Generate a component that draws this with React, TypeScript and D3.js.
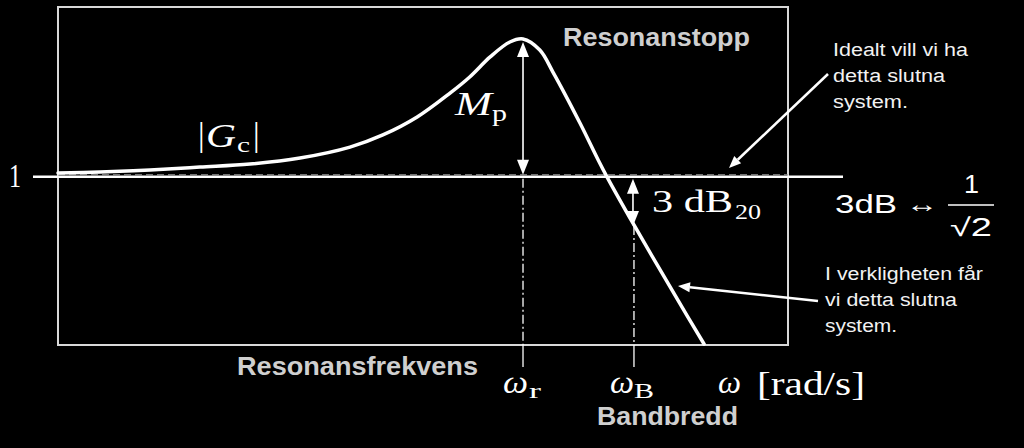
import React, { useEffect, useRef } from 'react';
import * as d3 from 'd3';

// frequency axis in log-units (0..10 across the box), closed-loop gain |Gc|
const freq = [0, 0.575, 1.26, 1.945, 2.63, 3.315, 4.0, 4.45, 4.92, 5.37, 5.64, 5.92, 6.19, 6.37, 6.6, 6.78, 7.15, 7.4, 7.52, 7.89, 8.49, 8.85];
const gain = [1.023, 1.029, 1.041, 1.058, 1.076, 1.112, 1.177, 1.249, 1.356, 1.498, 1.594, 1.713, 1.802, 1.82, 1.754, 1.623, 1.32, 1.1, 1.0, 0.714, 0.268, 0.006];

const omegaR = 6.37;   // resonance frequency
const omegaB = 7.89;   // bandwidth
const peakGain = 1.82; // Mp
const unitGain = 1;
const bandGain = 0.707; // 1/sqrt(2)

const W = 1024, H = 448;
const serif = "'Liberation Serif', 'Times New Roman', serif";
const sans = "'Liberation Sans', Arial, sans-serif";

const App: React.FC = () => {
  const ref = useRef<SVGSVGElement>(null);

  useEffect(() => {
    document.body.style.margin = '0';
    document.body.style.background = '#000';
    const svg = d3.select(ref.current);
    svg.selectAll('*').remove();

    const x = d3.scaleLinear().domain([0, 10]).range([58, 788]);
    const y = d3.scaleLinear().domain([0, 2.01]).range([345, 7]);

    svg.append('rect').attr('width', W).attr('height', H).attr('fill', '#000');

    // frame
    svg.append('rect')
      .attr('x', x(0)).attr('y', y(2.01))
      .attr('width', x(10) - x(0)).attr('height', y(0) - y(2.01))
      .attr('fill', 'none').attr('stroke', '#d8d8d8').attr('stroke-width', 2);

    // unit level line (ideal system) + tick
    svg.append('line')
      .attr('x1', 33).attr('x2', 843).attr('y1', y(unitGain)).attr('y2', y(unitGain))
      .attr('stroke', '#fff').attr('stroke-width', 2.5);
    svg.append('line')
      .attr('x1', x(0)).attr('x2', x(10)).attr('y1', y(unitGain) - 2).attr('y2', y(unitGain) - 2)
      .attr('stroke', '#999').attr('stroke-width', 1.2).attr('stroke-dasharray', '7,4');

    // dash-dot guide lines
    const guide = (xv: number, top: number) => {
      svg.append('line')
        .attr('x1', x(xv)).attr('x2', x(xv)).attr('y1', top).attr('y2', y(0))
        .attr('stroke', '#fff').attr('stroke-width', 1.3).attr('stroke-dasharray', '9,3,2,3');
      svg.append('line')
        .attr('x1', x(xv)).attr('x2', x(xv)).attr('y1', y(0)).attr('y2', 367)
        .attr('stroke', '#fff').attr('stroke-width', 1.3);
    };
    guide(omegaR, y(unitGain) + 2);
    guide(omegaB, y(bandGain));

    // curve
    const line = d3.line<number>()
      .x((_, i) => x(freq[i]))
      .y(d => y(d))
      .curve(d3.curveCatmullRom.alpha(0.5));
    svg.append('path')
      .attr('d', line(gain) || '')
      .attr('fill', 'none').attr('stroke', '#fff').attr('stroke-width', 3.5)
      .attr('stroke-linecap', 'round');

    // vertical double arrows
    const head = (cx: number, tip: number, dir: number, w = 12, l = 15) => {
      svg.append('path')
        .attr('d', `M${cx},${tip}L${cx - w / 2},${tip - dir * l}L${cx + w / 2},${tip - dir * l}Z`)
        .attr('fill', '#fff');
    };
    const dbl = (cx: number, top: number, bottom: number) => {
      svg.append('line').attr('x1', cx).attr('x2', cx).attr('y1', top + 5).attr('y2', bottom - 5)
        .attr('stroke', '#fff').attr('stroke-width', 1.6);
      head(cx, top, -1);
      head(cx, bottom, 1);
    };
    dbl(x(omegaR), y(peakGain) + 3, y(unitGain) - 2);
    dbl(x(omegaB) - 1, y(unitGain) + 2, y(bandGain));

    // callout arrows
    const callout = (x1: number, y1: number, x2: number, y2: number) => {
      const a = Math.atan2(y2 - y1, x2 - x1);
      const l = 12, w = 5;
      const bx = x2 - l * Math.cos(a), by = y2 - l * Math.sin(a);
      svg.append('line').attr('x1', x1).attr('y1', y1).attr('x2', bx).attr('y2', by)
        .attr('stroke', '#fff').attr('stroke-width', 2.5);
      svg.append('path')
        .attr('d', `M${x2},${y2}L${bx + w * Math.sin(a)},${by - w * Math.cos(a)}L${bx - w * Math.sin(a)},${by + w * Math.cos(a)}Z`)
        .attr('fill', '#fff');
    };
    callout(828, 74, 729, 168);
    callout(818, 301, 678, 286);

    // text helper
    const txt = (s: string, tx: number, ty: number, size: number, family: string,
      opts: { weight?: string; style?: string; fill?: string; len?: number } = {}) => {
      const t = svg.append('text')
        .attr('x', tx).attr('y', ty)
        .style('font-family', family).style('font-size', size + 'px')
        .style('font-weight', opts.weight || 'normal')
        .style('font-style', opts.style || 'normal')
        .attr('fill', opts.fill || '#fff')
        .text(s);
      if (opts.len) t.attr('textLength', opts.len).attr('lengthAdjust', 'spacingAndGlyphs');
      return t;
    };

    txt('1', 9, 187, 33, serif, { len: 12 });

    // |Gc|
    txt('|', 198, 146, 33, serif);
    txt('G', 206, 147, 33, serif, { style: 'italic', len: 30 });
    txt('c', 237, 152, 22, serif, { len: 13 });
    txt('|', 253, 146, 33, serif);

    // Mp
    txt('M', 455, 115, 33, serif, { style: 'italic', len: 37 });
    txt('p', 492, 121, 23, serif, { len: 15 });

    // 3 dB20
    txt('3 dB', 652, 212, 32, serif, { len: 81 });
    txt('20', 735, 219, 22, serif, { len: 26 });

    // omega labels
    txt('ω', 503, 393, 31, serif, { style: 'italic', len: 25 });
    txt('r', 529, 398, 21, serif, { len: 12 });
    txt('ω', 610, 393, 31, serif, { style: 'italic', len: 24 });
    txt('B', 634, 398, 21, serif, { len: 20 });
    txt('ω', 718, 393, 31, serif, { style: 'italic', len: 23 });
    txt('[rad/s]', 757, 395, 33, serif, { len: 108 });

    // bold gray labels
    const gray = '#cfcfcf';
    txt('Resonanstopp', 563, 46, 25, sans, { weight: 'bold', fill: gray, len: 187 });
    txt('Resonansfrekvens', 237, 375, 25, sans, { weight: 'bold', fill: gray, len: 241 });
    txt('Bandbredd', 597, 425, 25, sans, { weight: 'bold', fill: gray, len: 141 });

    // notes
    const note = '#f2f2f2';
    txt('Idealt vill vi ha', 833, 56, 18, sans, { fill: note, len: 135 });
    txt('detta slutna', 833, 82, 18, sans, { fill: note, len: 112 });
    txt('system.', 833, 108, 18, sans, { fill: note, len: 75 });
    txt('I verkligheten får', 825, 280, 18, sans, { fill: note, len: 158 });
    txt('vi detta slutna', 825, 306, 18, sans, { fill: note, len: 132 });
    txt('system.', 825, 332, 18, sans, { fill: note, len: 72 });

    // 3dB <-> 1/sqrt(2)
    txt('3dB', 835, 213, 25, sans, { len: 62 });
    txt('↔', 906, 212, 24, serif, { len: 32 });
    txt('1', 964, 193, 25, sans, { len: 15 });
    svg.append('line').attr('x1', 948).attr('x2', 994).attr('y1', 205).attr('y2', 205)
      .attr('stroke', '#fff').attr('stroke-width', 1.5);
    txt('√2', 950, 236, 25, sans, { len: 42 });
  }, []);

  return <svg ref={ref} width={W} height={H} style={{ display: 'block', background: '#000' }} />;
};

export default App;
